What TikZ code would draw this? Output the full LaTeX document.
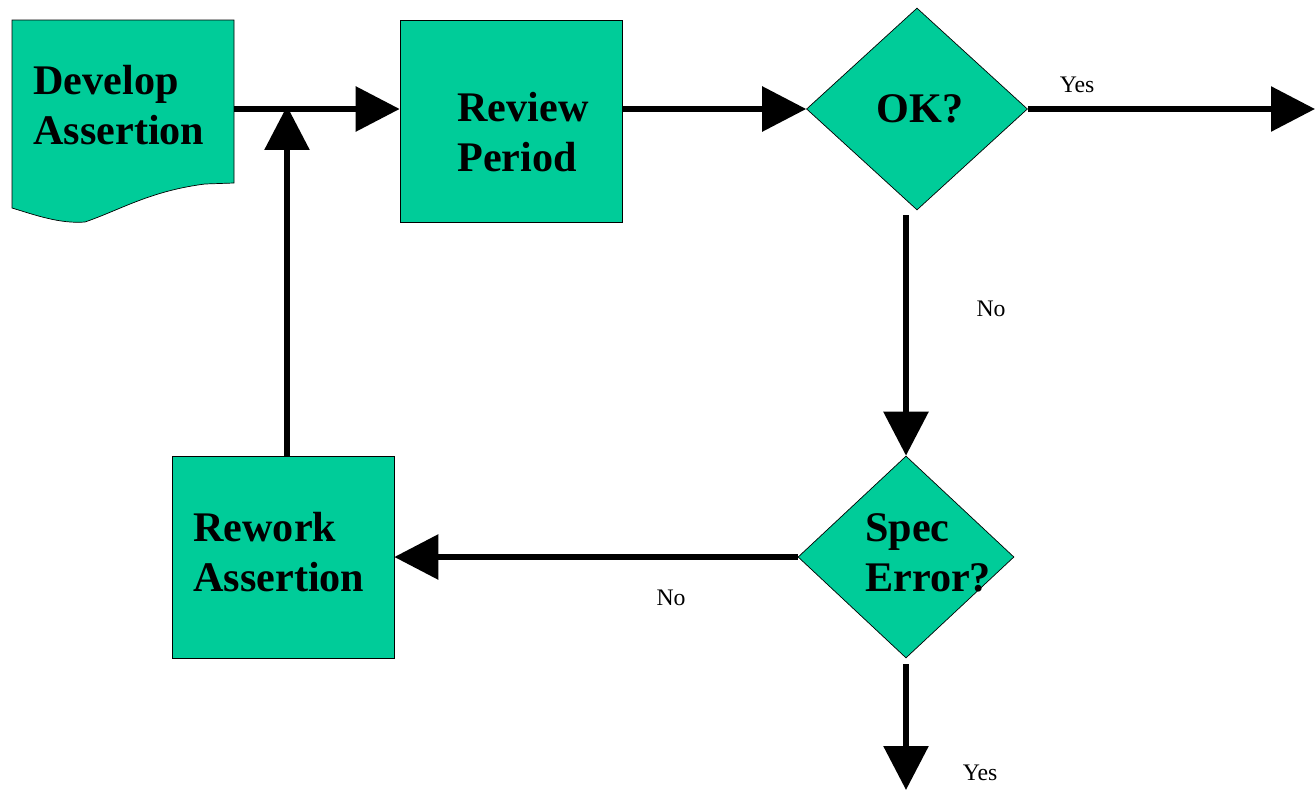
\documentclass[tikz,border=0pt]{standalone}
\usepackage{fontspec}
\setmainfont{Liberation Serif}
\usetikzlibrary{arrows.meta, positioning, calc, shapes.geometric}
\definecolor{flowgreen}{RGB}{0,204,153}

\tikzset{
  procbox/.style={draw=black, thin, fill=flowgreen, minimum width=4.44cm, minimum height=4.04cm, inner sep=0pt},
  decision/.style={diamond, draw=black, thin, fill=flowgreen, minimum height=4.04cm, inner sep=0pt},
  bigtxt/.style={font=\bfseries\fontsize{24}{28.5}\selectfont, align=left, inner sep=0pt},
  smalltxt/.style={font=\fontsize{13.5}{16}\selectfont, inner sep=0pt},
  flow/.style={line width=3.4pt, -{Triangle[length=0.88cm, width=0.88cm]}},
}

\begin{document}
\begin{tikzpicture}[x=0.02cm, y=-0.02cm]
  \useasboundingbox (0,0) rectangle (1315,791);
  % document shape
  \draw[thin, fill=flowgreen] (12,20) -- (234,20) -- (234,183) -- (205,184)
    .. controls (150,191) and (120,210) .. (85,222)
    .. controls (60,224) and (35,215) .. (12,208) -- cycle;
  \node[minimum width=4.44cm, minimum height=3.26cm, inner sep=0pt] (dev) at (123,101.5) {};
  \node[bigtxt, anchor=west] (devtxt) at (33,105) {Develop\\Assertion};
  % boxes
  \node[procbox] (rev) at (511,121) {};
  \node[bigtxt, anchor=west] (revtxt) at (457,132) {Review\\Period};
  \node[procbox] (rew) at (283,557) {};
  \node[bigtxt, anchor=west] (rewtxt) at (193,552) {Rework\\Assertion};
  % decisions
  \node[decision, minimum width=4.42cm] (ok) at (917,109) {};
  \node[bigtxt] (oktxt) at (920,109) {OK?};
  \node[decision, minimum width=4.32cm] (spec) at (906,557) {};
  \node[bigtxt, anchor=west] (spectxt) at (865,553) {Spec\\Error?};
  % free ends
  \coordinate (join) at (287,106);
  \coordinate (okend) at (1315,109);
  \coordinate (specend) at (906,790);
  % connectors
  \draw[flow] (dev.east |- ok) -- (rev.west |- ok);
  \draw[flow] (rev.east |- ok) -- (ok.west);
  \draw[flow] (ok.east) -- (okend);
  \draw[flow, shorten <=0.1cm] (ok.south -| spec.north) -- (spec.north);
  \draw[flow] (spec.west) -- (rew.east |- spec.west);
  \draw[flow, shorten <=0.12cm] (spec.south) -- (specend);
  \draw[flow] (rew.north -| join) -- (join);
  % labels
  \node[smalltxt] (yes1) at (1077,85) {Yes};
  \node[smalltxt] (no1) at (991,309) {No};
  \node[smalltxt] (no2) at (671,598) {No};
  \node[smalltxt] (yes2) at (980,773) {Yes};
\end{tikzpicture}
\end{document}
